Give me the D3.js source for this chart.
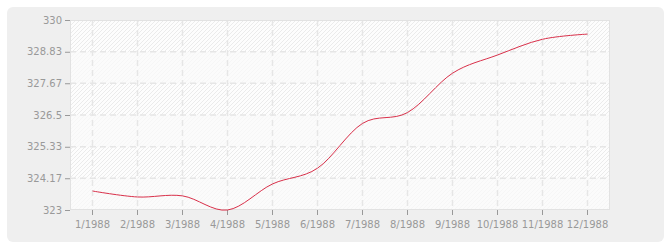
<!DOCTYPE html>
<html>
<head>
<meta charset="utf-8">
<script src="https://cdn.jsdelivr.net/npm/d3@7"></script>
<style>
  body { margin: 0; background: #fff; }
  svg { display: block; }
</style>
</head>
<body>
<script>
let w = 670;
let h = 250;

let months = ["1/1988", "2/1988", "3/1988", "4/1988", "5/1988", "6/1988",
              "7/1988", "8/1988", "9/1988", "10/1988", "11/1988", "12/1988"];
let values = [323.70, 323.48, 323.52, 323.00, 323.96, 324.54,
              326.19, 326.59, 328.04, 328.71, 329.29, 329.48];
let yTicks = [323, 324.17, 325.33, 326.5, 327.67, 328.83, 330];

let plot = {left: 70, right: 610, top: 20, bottom: 210};

let xScale = d3.scaleBand()
    .domain(months)
    .range([plot.left, plot.right])

let yScale = d3.scaleLinear()
    .domain([323, 330])
    .range([plot.bottom, plot.top])

let svg = d3.select("body")
    .append("svg")
    .attr("width", w)
    .attr("height", h)

// hatch pattern for the plot area
let defs = svg.append("defs")
let pat = defs.append("pattern")
    .attr("id", "hatch")
    .attr("patternUnits", "userSpaceOnUse")
    .attr("width", 4)
    .attr("height", 4)
pat.append("rect").attr("width", 4).attr("height", 4).attr("fill", "#fdfdfd")
pat.append("path")
    .attr("d", "M-1,1 l2,-2 M0,4 l4,-4 M3,5 l2,-2")
    .attr("stroke", "#ebebeb")
    .attr("stroke-width", 1)

// outer panel
svg.append("rect")
    .attr("x", 7).attr("y", 7)
    .attr("width", 657).attr("height", 235)
    .attr("rx", 6)
    .attr("fill", "#efefef")

svg.append("rect")
    .attr("x", plot.left).attr("y", plot.top)
    .attr("width", plot.right - plot.left)
    .attr("height", plot.bottom - plot.top)
    .attr("fill", "url(#hatch)")

// alternating lighter bands
svg.selectAll("rect.band")
    .data(d3.range(yTicks.length - 1).filter(i => i % 2 === 0))
    .enter()
    .append("rect")
    .attr("class", "band")
    .attr("x", plot.left)
    .attr("width", plot.right - plot.left)
    .attr("y", i => yScale(yTicks[i + 1]))
    .attr("height", i => yScale(yTicks[i]) - yScale(yTicks[i + 1]))
    .attr("fill", "#fafafa")
    .attr("opacity", 0.75)

// grid
svg.selectAll("line.hgrid")
    .data(yTicks.slice(1, -1))
    .enter()
    .append("line")
    .attr("x1", plot.left).attr("x2", plot.right)
    .attr("y1", d => yScale(d)).attr("y2", d => yScale(d))
    .attr("stroke", "#e6e6e6")
    .attr("stroke-width", 1.5)
    .attr("stroke-dasharray", "6,4")

svg.selectAll("line.vgrid")
    .data(months)
    .enter()
    .append("line")
    .attr("x1", d => xScale(d) + xScale.bandwidth() / 2)
    .attr("x2", d => xScale(d) + xScale.bandwidth() / 2)
    .attr("y1", plot.top).attr("y2", plot.bottom)
    .attr("stroke", "#e6e6e6")
    .attr("stroke-width", 1.5)
    .attr("stroke-dasharray", "6,4")

svg.append("rect")
    .attr("x", plot.left + 0.5).attr("y", plot.top + 0.5)
    .attr("width", plot.right - plot.left - 1)
    .attr("height", plot.bottom - plot.top - 1)
    .attr("fill", "none")
    .attr("stroke", "#e2e2e2")

// axes
let xAxis = d3.axisBottom(xScale).tickSize(5).tickPadding(6)
let yAxis = d3.axisLeft(yScale).tickValues(yTicks).tickFormat(d => d).tickSize(5).tickPadding(3)

let gx = svg.append("g")
    .attr("transform", `translate(0,${plot.bottom})`)
    .call(xAxis)
let gy = svg.append("g")
    .attr("transform", `translate(${plot.left},0)`)
    .call(yAxis)

for (let g of [gx, gy]) {
    g.select(".domain").remove()
    g.selectAll(".tick line").attr("stroke", "#999")
    g.selectAll("text")
        .attr("fill", "#999")
        .attr("font-family", "DejaVu Sans, sans-serif")
        .attr("font-size", "10px")
}

// data line
let line = d3.line()
    .x((d, i) => xScale(months[i]) + xScale.bandwidth() / 2)
    .y(d => yScale(d))
    .curve(d3.curveCardinal.tension(0))

svg.append("path")
    .datum(values)
    .attr("d", line)
    .attr("fill", "none")
    .attr("stroke", "#d9304a")
    .attr("stroke-width", 1)
</script>
</body>
</html>
